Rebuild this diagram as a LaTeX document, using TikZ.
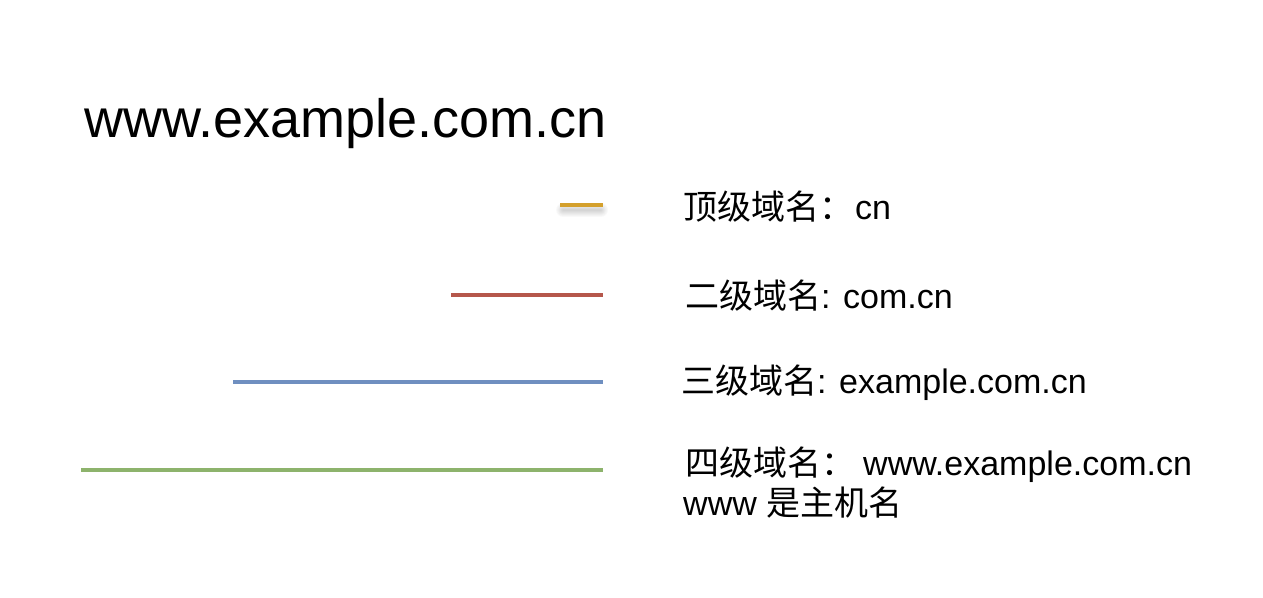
\documentclass[tikz,border=0pt]{standalone}
\usepackage{fontspec}
\setmainfont{Liberation Sans}
\newfontfamily\cjk{Noto Sans CJK SC}
\definecolor{cgold}{HTML}{D4A02C}
\definecolor{cred}{HTML}{B5574B}
\definecolor{cblue}{HTML}{6F8FC0}
\definecolor{cgreen}{HTML}{8DB36C}
\begin{document}
\begin{tikzpicture}[x=1pt,y=-1pt,
  lvline/.style={line width=4pt},
  lbl/.style={anchor=base west,inner sep=0pt,font=\fontsize{34}{40}\selectfont},
  ttl/.style={anchor=base west,inner sep=0pt,font=\fontsize{54}{60}\selectfont}]
\useasboundingbox[fill=white] (0,0) rectangle (1263,597);
\node[ttl] (title) at (84,137) {www.example.com.cn};
% soft shadow of gold line
\foreach \w in {2,4,6,8,10,12,14}{
  \draw[line width=\w pt,line cap=round,black,opacity=0.025] (563,210) -- (601,210);
}
\coordinate (g1) at (560,205); \coordinate (g2) at (603,205);
\coordinate (r1) at (451,295); \coordinate (r2) at (603,295);
\coordinate (b1) at (233,382); \coordinate (b2) at (603,382);
\coordinate (n1) at (81,470);  \coordinate (n2) at (603,470);
\fill[white] (560,203) rectangle (603,207);
\draw[lvline,cgold] (g1) -- (g2);
\draw[lvline,cred] (r1) -- (r2);
\draw[lvline,cblue] (b1) -- (b2);
\draw[lvline,cgreen] (n1) -- (n2);
\node[lbl] (l1) at (683,219) {{\cjk 顶级域名：}\hspace{2pt}cn};
\node[lbl] (l2) at (685,308) {{\cjk 二级域名}: com.cn};
\node[lbl] (l3) at (681,393) {{\cjk 三级域名}: example.com.cn};
\node[lbl] (l4) at (685,475) {{\cjk 四级域名：}\hspace{8pt}www.example.com.cn};
\node[lbl] (l5) at (683,515) {www {\cjk 是主机名}};
\end{tikzpicture}
\end{document}
